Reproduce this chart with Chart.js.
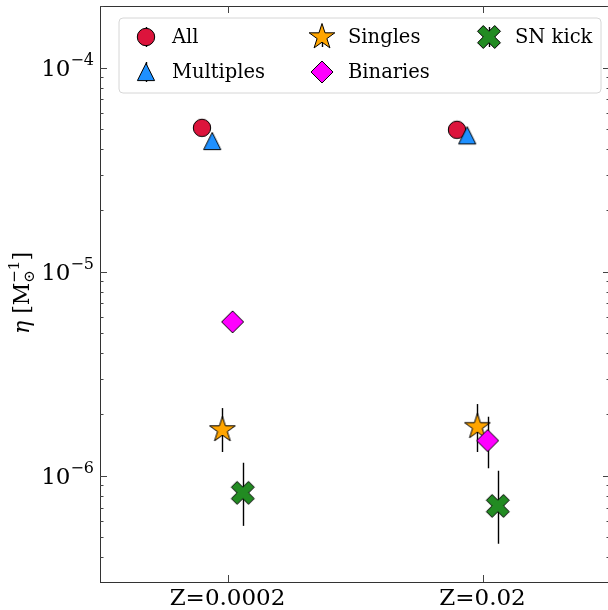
<!DOCTYPE html>
<html>
<head>
<meta charset="utf-8">
<script src="https://cdn.jsdelivr.net/npm/chart.js@4"></script>
<style>
  html, body { margin: 0; padding: 0; background: #fff; overflow: hidden; }
  #chart { display: block; }
</style>
</head>
<body>
<canvas id="chart" width="612" height="610"></canvas>
<script>
// categories and values
const categories = ['Z=0.0002', 'Z=0.02'];
const seriesNames = ['All', 'Multiples', 'Singles', 'Binaries', 'SN kick'];

const allVals = [5.08e-5, 4.97e-5];
const allLo = [4.9e-5, 4.8e-5];
const allHi = [5.25e-5, 5.15e-5];

const multVals = [4.38e-5, 4.67e-5];
const multLo = [4.25e-5, 4.55e-5];
const multHi = [4.5e-5, 4.8e-5];

const singleVals = [1.68e-6, 1.74e-6];
const singleLo = [1.31e-6, 1.31e-6];
const singleHi = [2.15e-6, 2.25e-6];

const binVals = [5.69e-6, 1.49e-6];
const binLo = [5.3e-6, 1.09e-6];
const binHi = [6.1e-6, 1.95e-6];

const snVals = [8.26e-7, 7.13e-7];
const snLo = [5.69e-7, 4.65e-7];
const snHi = [1.16e-6, 1.06e-6];

const yTickPowers = [-6, -5, -4];

const FONT = '"DejaVu Serif", serif';

/* ---------- marker images ---------- */
function makeMarker(kind, color) {
  const s = 32;
  const c = document.createElement('canvas');
  c.width = s; c.height = s;
  const g = c.getContext('2d');
  g.translate(s / 2, s / 2);
  g.beginPath();
  if (kind === 'circle') {
    g.arc(0, 0, 8.7, 0, Math.PI * 2);
  } else if (kind === 'triangle') {
    g.moveTo(0, -8.6); g.lineTo(8.6, 8.6); g.lineTo(-8.6, 8.6); g.closePath();
  } else if (kind === 'star') {
    const R = 13.5, r = R * 0.381966;
    for (let i = 0; i < 10; i++) {
      const a = -Math.PI / 2 + i * Math.PI / 5;
      const rr = i % 2 === 0 ? R : r;
      if (i === 0) g.moveTo(rr * Math.cos(a), rr * Math.sin(a));
      else g.lineTo(rr * Math.cos(a), rr * Math.sin(a));
    }
    g.closePath();
  } else if (kind === 'diamond') {
    g.moveTo(0, -11); g.lineTo(11, 0); g.lineTo(0, 11); g.lineTo(-11, 0); g.closePath();
  } else if (kind === 'x') {
    const u = 4.05;
    const pts = [[-1, -3], [1, -3], [1, -1], [3, -1], [3, 1], [1, 1], [1, 3], [-1, 3], [-1, 1], [-3, 1], [-3, -1], [-1, -1]];
    const ca = Math.cos(Math.PI / 4), sa = Math.sin(Math.PI / 4);
    pts.forEach(function (p, i) {
      const x = (p[0] * ca - p[1] * sa) * u, y = (p[0] * sa + p[1] * ca) * u;
      if (i === 0) g.moveTo(x, y); else g.lineTo(x, y);
    });
    g.closePath();
  }
  g.fillStyle = color;
  g.fill();
  g.lineWidth = 1;
  g.strokeStyle = '#000';
  g.stroke();
  return c;
}

const markers = [
  makeMarker('circle', '#DC143C'),
  makeMarker('triangle', '#1E90FF'),
  makeMarker('star', '#FFA500'),
  makeMarker('diamond', '#FF00FF'),
  makeMarker('x', '#228B22')
];
const offsets = [-0.1, -0.06, -0.02, 0.02, 0.06];
const values = [allVals, multVals, singleVals, binVals, snVals];
const errLo = [allLo, multLo, singleLo, binLo, snLo];
const errHi = [allHi, multHi, singleHi, binHi, snHi];

const datasets = seriesNames.map(function (name, i) {
  return {
    label: name,
    data: values[i].map(function (v, k) { return { x: k + offsets[i], y: v }; }),
    pointStyle: markers[i],
    pointRadius: 10,
    pointHoverRadius: 10,
    clip: false,
    order: seriesNames.length - i
  };
});

/* ---------- decorations: spines, ticks, labels, legend, error bars ---------- */
const deco = {
  id: 'deco',
  beforeDatasetDraw: function (chart, args) {
    const i = args.index;
    if (!errLo[i]) return;
    const ctx = chart.ctx, ys = chart.scales.y, xs = chart.scales.x;
    ctx.save();
    ctx.strokeStyle = '#000';
    ctx.lineWidth = 1.4;
    values[i].forEach(function (v, k) {
      const x = Math.round(xs.getPixelForValue(k + offsets[i])) + 0.5;
      ctx.beginPath();
      ctx.moveTo(x, ys.getPixelForValue(errHi[i][k]));
      ctx.lineTo(x, ys.getPixelForValue(errLo[i][k]));
      ctx.stroke();
    });
    ctx.restore();
  },
  afterDraw: function (chart) {
    const ctx = chart.ctx, a = chart.chartArea, ys = chart.scales.y, xs = chart.scales.x;
    ctx.save();
    // spines
    ctx.strokeStyle = '#333';
    ctx.lineWidth = 1;
    ctx.strokeRect(Math.round(a.left) + 0.5, Math.round(a.top) + 0.5, Math.round(a.right - a.left), Math.round(a.bottom - a.top));

    // log ticks, pointing inward, on left and right
    ctx.strokeStyle = '#444';
    for (let p = -7; p <= -3; p++) {
      for (let m = 1; m <= 9; m++) {
        const v = m * Math.pow(10, p);
        if (v < ys.min || v > ys.max) continue;
        const y = Math.round(ys.getPixelForValue(v)) + 0.5;
        const len = m === 1 ? 7 : 3.5;
        ctx.beginPath();
        ctx.moveTo(a.left, y); ctx.lineTo(a.left + len, y);
        ctx.moveTo(a.right, y); ctx.lineTo(a.right - len, y);
        ctx.stroke();
      }
    }
    // category ticks top and bottom
    categories.forEach(function (c, k) {
      const x = Math.round(xs.getPixelForValue(k)) + 0.5;
      ctx.beginPath();
      ctx.moveTo(x, a.bottom); ctx.lineTo(x, a.bottom - 7);
      ctx.moveTo(x, a.top); ctx.lineTo(x, a.top + 7);
      ctx.stroke();
    });

    // x tick labels
    ctx.fillStyle = '#000';
    ctx.font = '23px ' + FONT;
    ctx.textAlign = 'center';
    ctx.textBaseline = 'alphabetic';
    categories.forEach(function (c, k) {
      ctx.fillText(c, xs.getPixelForValue(k), a.bottom + 23);
    });

    // y tick labels 10^p
    yTickPowers.forEach(function (p) {
      const y = ys.getPixelForValue(Math.pow(10, p));
      const sup = '\u2212' + Math.abs(p);
      ctx.font = '16px ' + FONT;
      const wSup = ctx.measureText(sup).width;
      ctx.font = '23px ' + FONT;
      const wBase = ctx.measureText('10').width;
      const right = a.left - 6;
      ctx.textAlign = 'left';
      ctx.fillText('10', right - wSup - wBase, y + 8);
      ctx.font = '16px ' + FONT;
      ctx.fillText(sup, right - wSup, y - 3);
    });

    // y axis title: eta [M_sun^-1]
    ctx.save();
    ctx.translate(29, 293);
    ctx.rotate(-Math.PI / 2);
    ctx.textAlign = 'left';
    const parts = [
      { t: '\u03B7', f: 'italic 22px ' + FONT },
      { t: ' [M', f: '22px ' + FONT }
    ];
    let w = 0;
    parts.forEach(function (pt) { ctx.font = pt.f; pt.w = ctx.measureText(pt.t).width; w += pt.w; });
    ctx.font = '15px ' + FONT;
    const wSub = ctx.measureText('\u2299').width;
    const wSup2 = ctx.measureText('\u22121').width;
    ctx.font = '22px ' + FONT;
    const wBr = ctx.measureText(']').width;
    const total = w + Math.max(wSub, wSup2) + wBr;
    let x0 = -total / 2;
    parts.forEach(function (pt) { ctx.font = pt.f; ctx.fillText(pt.t, x0, 0); x0 += pt.w; });
    ctx.font = '15px ' + FONT;
    ctx.fillText('\u2299', x0, 5);
    ctx.fillText('\u22121', x0, -10);
    x0 += Math.max(wSub, wSup2);
    ctx.font = '22px ' + FONT;
    ctx.fillText(']', x0, 0);
    ctx.restore();

    // legend (3 columns, column-major)
    const lx = 119, ly = 18, lw = 482, lh = 75, r = 4;
    ctx.beginPath();
    ctx.moveTo(lx + r, ly);
    ctx.lineTo(lx + lw - r, ly); ctx.quadraticCurveTo(lx + lw, ly, lx + lw, ly + r);
    ctx.lineTo(lx + lw, ly + lh - r); ctx.quadraticCurveTo(lx + lw, ly + lh, lx + lw - r, ly + lh);
    ctx.lineTo(lx + r, ly + lh); ctx.quadraticCurveTo(lx, ly + lh, lx, ly + lh - r);
    ctx.lineTo(lx, ly + r); ctx.quadraticCurveTo(lx, ly, lx + r, ly);
    ctx.closePath();
    ctx.fillStyle = 'rgba(255,255,255,0.8)';
    ctx.fill();
    ctx.strokeStyle = '#d6d6d6';
    ctx.lineWidth = 1;
    ctx.stroke();

    const colX = [146, 322, 489];
    const rowY = [37, 72];
    ctx.font = '19.5px ' + FONT;
    ctx.textAlign = 'left';
    ctx.textBaseline = 'middle';
    seriesNames.forEach(function (name, i) {
      const cx = colX[Math.floor(i / 2)], cy = rowY[i % 2];
      ctx.strokeStyle = '#000';
      ctx.lineWidth = 1.4;
      ctx.beginPath();
      ctx.moveTo(cx + 0.5, cy - 10); ctx.lineTo(cx + 0.5, cy + 10);
      ctx.stroke();
      ctx.drawImage(markers[i], cx - markers[i].width / 2, cy - markers[i].height / 2);
      ctx.fillStyle = '#000';
      ctx.fillText(name, cx + 26, cy + 1);
    });
    ctx.restore();
  }
};

new Chart(document.getElementById('chart'), {
  type: 'scatter',
  data: { datasets: datasets },
  options: {
    responsive: false,
    animation: false,
    events: [],
    layout: { autoPadding: false, padding: { left: 100, right: 2, top: 6, bottom: 28 } },
    plugins: { legend: { display: false }, tooltip: { enabled: false } },
    scales: {
      x: { type: 'linear', min: -0.5, max: 1.5, display: false },
      y: { type: 'logarithmic', min: 3.02e-7, max: 2.01e-4, display: false }
    }
  },
  plugins: [deco]
});
</script>
</body>
</html>
